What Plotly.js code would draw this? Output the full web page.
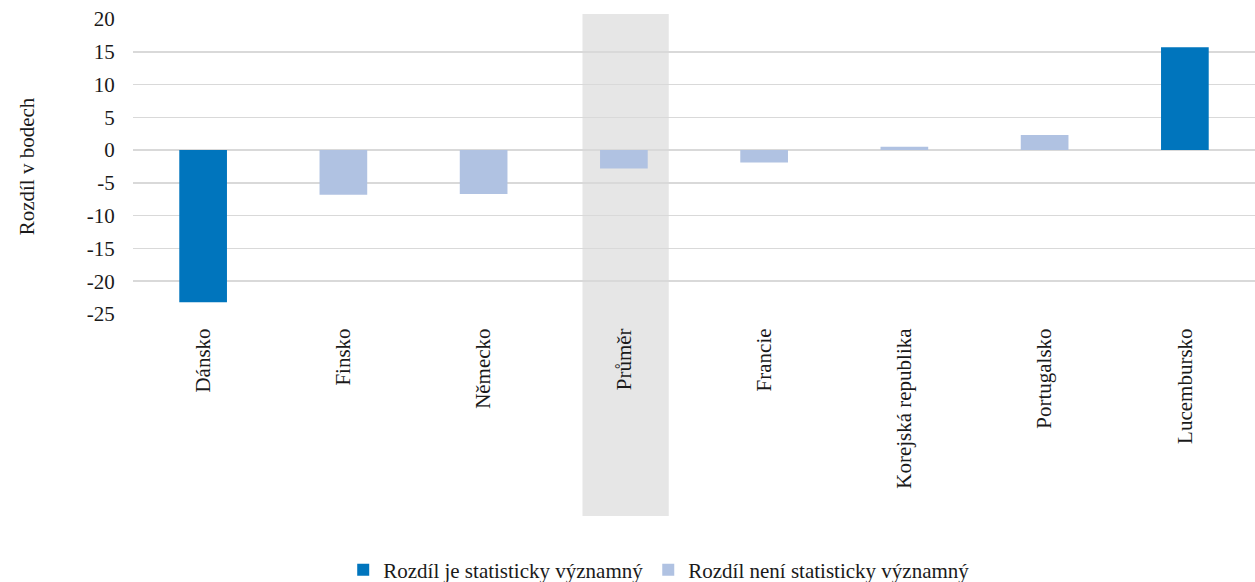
<!DOCTYPE html>
<html>
<head>
<meta charset="utf-8">
<script src="https://cdn.plot.ly/plotly-3.0.1.min.js"></script>
<style>
  html, body { margin: 0; padding: 0; background: #ffffff; }
  #chart { width: 1255px; height: 582px; }
</style>
</head>
<body>
<div id="chart"></div>
<script>
// Countries (plus the average) in display order
const categories = ['Dánsko', 'Finsko', 'Německo', 'Průměr', 'Francie', 'Korejská republika', 'Portugalsko', 'Lucembursko'];
// Score difference in points
const differences = [-23.2, -6.8, -6.7, -2.8, -1.9, 0.5, 2.3, 15.7];
// Whether the difference is statistically significant
const significant = [true, false, false, false, false, false, false, true];
// Category that is highlighted with a shaded band
const highlighted = 'Průměr';
// Y axis ticks (labels written with a plain hyphen)
const yTickVals = [-25, -20, -15, -10, -5, 0, 5, 10, 15, 20];
const yTickText = ['-25', '-20', '-15', '-10', '-5', '0', '5', '10', '15', '20'];

const legendNames = ['Rozdíl je statisticky významný', 'Rozdíl není statisticky významný'];
const colors = ['#0075BD', '#B0C2E2'];

const sigValues = differences.map((v, i) => significant[i] ? v : null);
const nonSigValues = differences.map((v, i) => significant[i] ? null : v);

const font = { family: 'Times New Roman, Liberation Serif, serif', size: 21, color: '#1a1a1a' };

const traces = [
  { type: 'bar', x: categories, y: sigValues, name: legendNames[0],
    marker: { color: colors[0] }, width: 0.34, hoverinfo: 'x+y' },
  { type: 'bar', x: categories, y: nonSigValues, name: legendNames[1],
    marker: { color: colors[1] }, width: 0.34, hoverinfo: 'x+y' }
];

const hi = categories.indexOf(highlighted);

const layout = {
  width: 1255, height: 582,
  margin: { l: 133, r: 0, t: 19, b: 268, autoexpand: false },
  paper_bgcolor: '#ffffff', plot_bgcolor: 'rgba(0,0,0,0)',
  font: font,
  barmode: 'overlay',
  showlegend: true,
  legend: { orientation: 'h', x: 0.469, xanchor: 'center', y: -0.868, yanchor: 'middle',
            font: font, itemwidth: 30, tracegroupgap: 0 },
  xaxis: {
    type: 'category', categoryorder: 'array', categoryarray: categories,
    range: [-0.5, categories.length - 0.5],
    tickangle: -90, showgrid: false, showline: false, zeroline: false,
    ticks: 'outside', ticklen: 5, tickcolor: 'rgba(0,0,0,0)',
    tickfont: font, automargin: false
  },
  yaxis: {
    range: [-25, 20], tickmode: 'array', tickvals: yTickVals, ticktext: yTickText,
    showgrid: true, gridcolor: '#d9d9d9', gridwidth: 1.5,
    zeroline: true, zerolinecolor: '#d9d9d9', zerolinewidth: 1.5,
    showline: false, ticks: 'outside', ticklen: 13, tickcolor: 'rgba(0,0,0,0)',
    tickfont: font, automargin: false,
    title: { text: 'Rozdíl v bodech', font: font, standoff: 46 }
  },
  shapes: [{
    type: 'rect', layer: 'below',
    xref: 'x', yref: 'paper',
    x0: hi - 0.295, x1: hi + 0.32,
    y0: -0.685, y1: 1.017,
    fillcolor: '#e6e6e6', line: { width: 0 }
  }]
};

Plotly.newPlot('chart', traces, layout, { displayModeBar: false, staticPlot: true });
</script>
</body>
</html>
